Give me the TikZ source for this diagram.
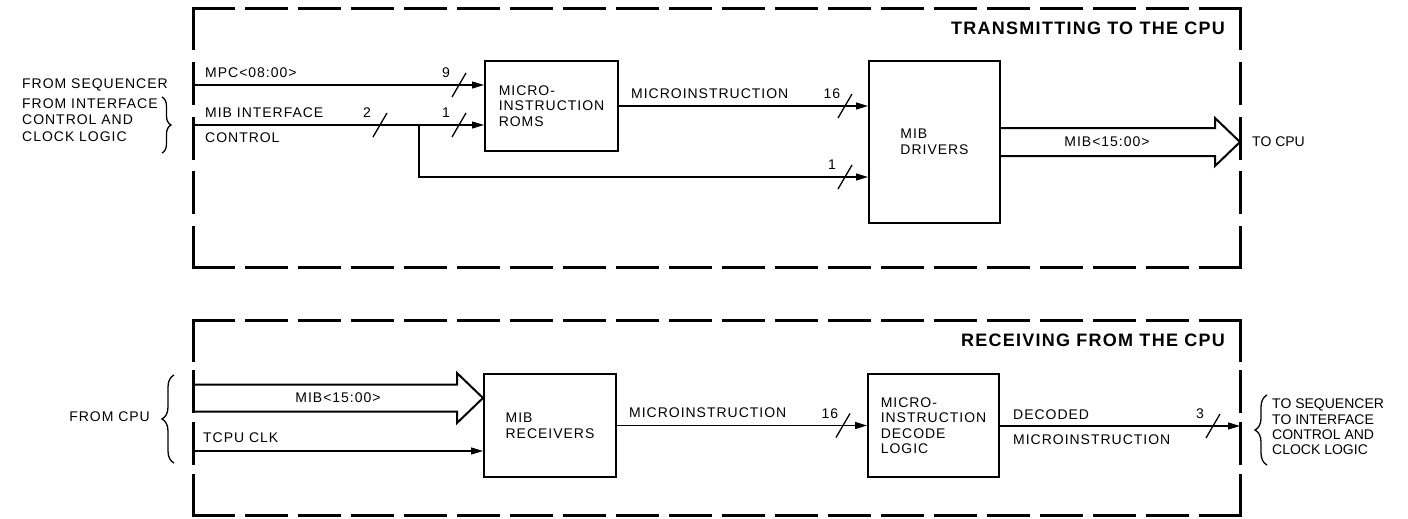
\documentclass[tikz,border=0pt]{standalone}
\usepackage{fontspec}
\setmainfont{Liberation Sans}[LetterSpace=7]
\newfontfamily\plainfont{Liberation Sans}
\usetikzlibrary{arrows.meta,decorations.pathreplacing}
\tikzset{
  bslash/.pic={
    \draw[line width=1.3pt] (-7,12) -- (7,-12);
    \node (-n) at (-13,-12) {#1};
  }
}
\begin{document}
\begin{tikzpicture}[x=1pt,y=-1pt,
  every node/.style={font=\fontsize{14}{15.5}\selectfont, inner sep=0pt},
  blk/.style={draw, line width=2pt, align=left},
  sig/.style={line width=1.3pt, -{Triangle[length=12pt,width=7pt]}},
  wire/.style={line width=1.3pt},
  hbound/.style={line width=3pt, line cap=rect, dash pattern=on 40pt off 13pt},
  vboundA/.style={line width=3pt, line cap=rect, dash pattern=on 40pt off 14.5pt},
  vboundB/.style={line width=3pt, line cap=rect, dash pattern=on 40pt off 11.67pt},
  bus/.style={line width=2pt, line join=miter},
  ttl/.style={font=\fontsize{18}{20}\selectfont\bfseries, anchor=east},
  lbl/.style={anchor=west},
  brc/.style={decorate, line width=1.3pt},
]
\useasboundingbox (0,0) rectangle (1408,519);

% ---------- dashed boundaries ----------
\coordinate (tTL) at (193,9);   \coordinate (tTR) at (1240,9);
\coordinate (tBL) at (193,267); \coordinate (tBR) at (1240,267);
\coordinate (bTL) at (193,320); \coordinate (bTR) at (1240,320);
\coordinate (bBL) at (193,515); \coordinate (bBR) at (1240,515);
\draw[hbound] (tTL) -- (tTR);
\draw[hbound] (tBL) -- (tBR);
\draw[vboundA] (tTL) -- (tBL);
\draw[vboundA] (tTR) -- (tBR);
\draw[hbound] (bTL) -- (bTR);
\draw[hbound] (bBL) -- (bBR);
\draw[vboundB] (bTL) -- (bBL);
\draw[vboundB] (bTR) -- (bBR);

\node[ttl] (title1) at (1225,28) {TRANSMITTING TO THE CPU};
\node[ttl] (title2) at (1225,340) {RECEIVING FROM THE CPU};

% ---------- top: transmitting ----------
\node[blk, minimum width=133pt, minimum height=90pt] (rom) at (551.5,106)
  {MICRO-\\INSTRUCTION\\ROMS};
\node[blk, minimum width=131pt, minimum height=162pt] (drv) at (934.5,142)
  {MIB\\DRIVERS};

\coordinate (mpcL) at (193,85);
\coordinate (mibL) at (193,125);
\coordinate (jn) at (419,125);
\coordinate (brY) at (0,177);

\draw[sig] (mpcL) -- (rom.west |- mpcL);
\draw[sig] (mibL) -- (rom.west |- mibL);
\draw[sig] (jn) |- (drv.west |- brY);
\draw[sig] (rom.east) -- (rom.east -| drv.west);

\pic (s9)  at (459,85)  {bslash={9}};
\pic (s2)  at (380,125) {bslash={2}};
\pic (s1a) at (459,125) {bslash={1}};
\pic (s16a) at (845,106) {bslash={16}};
\pic (s1b) at (845,177) {bslash={1}};

\node[lbl] (tMPC) at (205,73) {MPC<08:00>};
\node[lbl] (tMIB1) at (205,113) {MIB INTERFACE};
\node[lbl] (tMIB2) at (205,138) {CONTROL};
\node[lbl] (tMI1) at (631,94) {MICROINSTRUCTION};

% wide bus to CPU
\coordinate (tocpu) at (1240,142);
\draw[bus] ([yshift=14pt]drv.east) -- ([yshift=14pt]drv.east -| 1215,0) -- ([yshift=24pt]drv.east -| 1215,0)
  -- (tocpu) -- ([yshift=-24pt]drv.east -| 1215,0) -- ([yshift=-14pt]drv.east -| 1215,0) -- ([yshift=-14pt]drv.east);
\node (tbus1) at (1107,142) {MIB<15:00>};
\node[lbl] (tcpu) at (1252,142) {\plainfont TO CPU};

% left labels
\node[lbl] (fseq) at (22,85) {FROM SEQUENCER};
\node[lbl, align=left, font=\fontsize{14}{16.5}\selectfont] (fif) at (22,120)
  {FROM INTERFACE\\CONTROL AND\\CLOCK LOGIC};
\coordinate (brA1) at (162,97); \coordinate (brA2) at (162,153);
\draw[brc, decoration={brace, amplitude=9pt}] (brA1) -- (brA2);

% ---------- bottom: receiving ----------
\node[blk, minimum width=132pt, minimum height=103pt] (rcv) at (550,425.5)
  {MIB\\RECEIVERS};
\node[blk, minimum width=131pt, minimum height=103pt] (dec) at (933.5,425.5)
  {MICRO-\\INSTRUCTION\\DECODE\\LOGIC};

\coordinate (busL) at (193,398);
\coordinate (tclkL) at (193,451);
\coordinate (outR) at (1240,426);

\draw[bus] ([yshift=13.5pt]busL) -- ([yshift=13.5pt]busL -| 457,0) -- ([yshift=25pt]busL -| 457,0)
  -- (rcv.west |- busL) -- ([yshift=-25pt]busL -| 457,0) -- ([yshift=-13.5pt]busL -| 457,0) -- ([yshift=-13.5pt]busL);
\node (tbus2) at (338,398) {MIB<15:00>};

\draw[sig] (tclkL) -- (rcv.west |- tclkL);
\node[lbl] (tclk) at (203,438) {TCPU CLK};

\draw[sig] (rcv.east) -- (rcv.east -| dec.west);
\node[lbl] (tMI2) at (629,413) {MICROINSTRUCTION};
\pic (s16b) at (843,425.5) {bslash={16}};

\draw[sig] (dec.east |- outR) -- (outR);
\node[lbl] (tdec1) at (1013,415) {DECODED};
\node[lbl] (tdec2) at (1013,440) {MICROINSTRUCTION};
\pic (s3) at (1213,426) {bslash={3}};

\node[anchor=east] (fcpu) at (150,417) {FROM CPU};
\coordinate (brB1) at (174,463); \coordinate (brB2) at (174,375);
\draw[brc, decoration={brace, amplitude=12pt}] (brB1) -- (brB2);

\coordinate (brC1) at (1267,465); \coordinate (brC2) at (1267,395);
\draw[brc, decoration={brace, amplitude=12pt}] (brC1) -- (brC2);
\node[lbl, align=left, font=\plainfont\fontsize{14}{15.3}\selectfont] (tseq) at (1272,427)
  {TO SEQUENCER\\TO INTERFACE\\CONTROL AND\\CLOCK LOGIC};
\end{tikzpicture}
\end{document}
